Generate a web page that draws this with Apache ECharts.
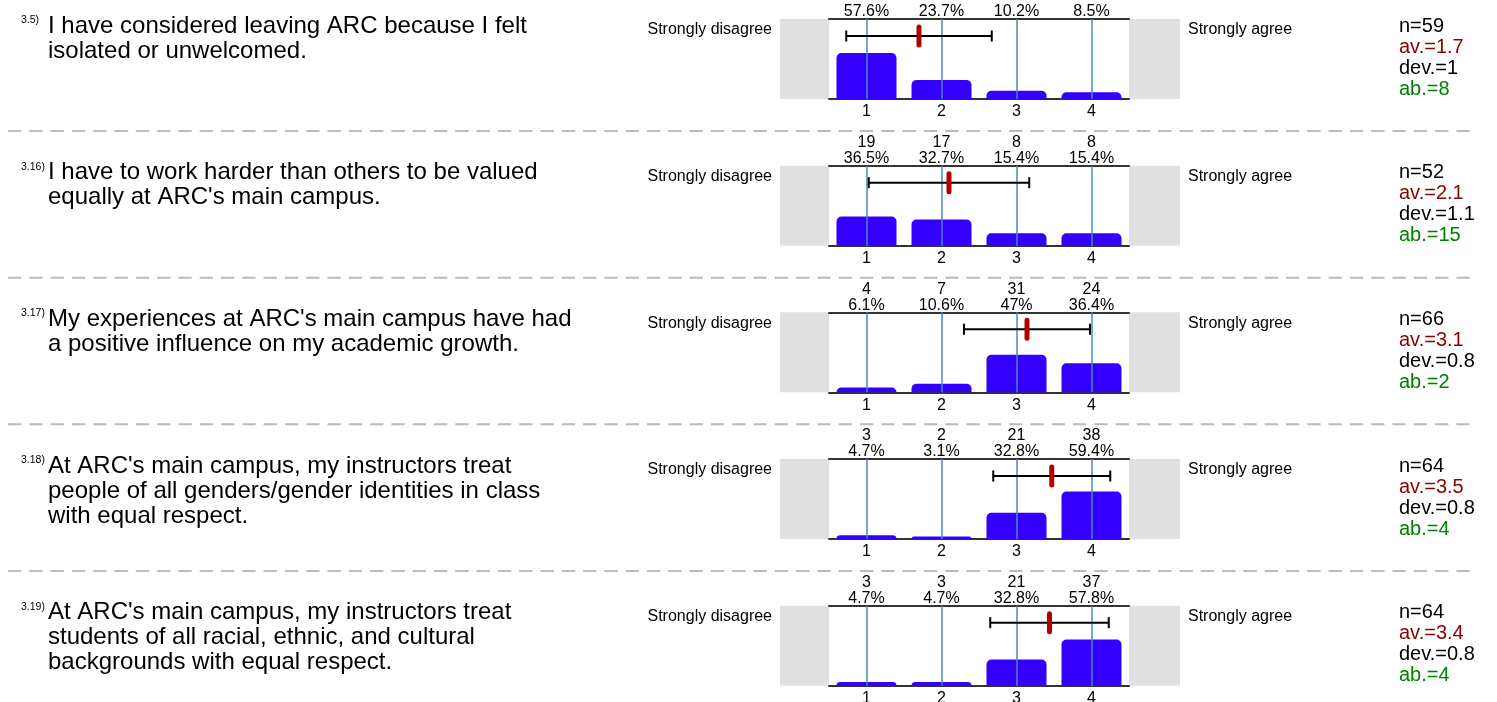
<!DOCTYPE html>
<html>
<head>
<meta charset="utf-8">
<script src="https://cdn.jsdelivr.net/npm/echarts@6/dist/echarts.min.js"></script>
<style>
html,body{margin:0;padding:0;background:#fff;}
#c{width:1497px;height:702px;}
</style>
</head>
<body>
<div id="c"></div>
<script>
// ---------- data ----------
const questionIds = ['3.5)', '3.16)', '3.17)', '3.18)', '3.19)'];
const questionLines = [
  ['I have considered leaving ARC because I felt', 'isolated or unwelcomed.'],
  ['I have to work harder than others to be valued', "equally at ARC's main campus."],
  ["My experiences at ARC's main campus have had", 'a positive influence on my academic growth.'],
  ["At ARC's main campus, my instructors treat", 'people of all genders/gender identities in class', 'with equal respect.'],
  ["At ARC's main campus, my instructors treat", 'students of all racial, ethnic, and cultural', 'backgrounds with equal respect.']
];
const categories = ['1', '2', '3', '4'];
const counts1 = [34, 14, 6, 5];
const counts2 = [19, 17, 8, 8];
const counts3 = [4, 7, 31, 24];
const counts4 = [3, 2, 21, 38];
const counts5 = [3, 3, 21, 37];
const pct1 = [57.6, 23.7, 10.2, 8.5];
const pct2 = [36.5, 32.7, 15.4, 15.4];
const pct3 = [6.1, 10.6, 47, 36.4];
const pct4 = [4.7, 3.1, 32.8, 59.4];
const pct5 = [4.7, 4.7, 32.8, 57.8];
const means = [1.70, 2.10, 3.14, 3.47, 3.44];
const devs = [0.97, 1.07, 0.84, 0.78, 0.79];
const statN = ['n=59', 'n=52', 'n=66', 'n=64', 'n=64'];
const statAv = ['av.=1.7', 'av.=2.1', 'av.=3.1', 'av.=3.5', 'av.=3.4'];
const statDev = ['dev.=1', 'dev.=1.1', 'dev.=0.8', 'dev.=0.8', 'dev.=0.8'];
const statAb = ['ab.=8', 'ab.=15', 'ab.=2', 'ab.=4', 'ab.=4'];
const leftPole = 'Strongly disagree';
const rightPole = 'Strongly agree';

const countsAll = [counts1, counts2, counts3, counts4, counts5];
const pctAll = [pct1, pct2, pct3, pct4, pct5];

// ---------- layout ----------
const FONT = '"Liberation Sans", Arial, Helvetica, sans-serif';
const TOP0 = 19, STEP = 146.667, PH = 80;
const GL = 829, GW = 300;

const grids = [], xAxes = [], yAxes = [], series = [], graphics = [];

for (let k = 0; k < 5; k++) {
  const T = TOP0 + k * STEP;
  grids.push({left: GL, top: T, width: GW, height: PH, containLabel: false, outerBoundsMode: 'none'});
  // bottom category axis
  xAxes.push({
    type: 'category', gridIndex: k, position: 'bottom', data: categories,
    axisLine: {onZero: false, lineStyle: {color: '#333', width: 2}},
    axisTick: {show: false},
    axisLabel: {fontSize: 16, color: '#000', margin: 5, fontFamily: FONT}
  });
  // top category axis with count / percent labels
  xAxes.push({
    type: 'category', gridIndex: k, position: 'top',
    data: categories.map((c, i) => countsAll[k][i] + '\n' + pctAll[k][i] + '%'),
    axisLine: {onZero: false, lineStyle: {color: '#333', width: 2}},
    axisTick: {show: false},
    axisLabel: {fontSize: 16, color: '#000', margin: -1, lineHeight: 16, fontFamily: FONT}
  });
  // hidden value axis for mean/dev
  xAxes.push({type: 'value', gridIndex: k, position: 'bottom', min: 0.5, max: 4.5, show: false});
  yAxes.push({type: 'value', gridIndex: k, min: 0, max: 100, show: false});

  series.push({
    type: 'bar', xAxisIndex: 3 * k, yAxisIndex: k,
    data: pctAll[k], barWidth: 60,
    itemStyle: {color: '#3300ff', borderRadius: [5, 5, 0, 0]},
    silent: true,
    markLine: {
      silent: true, symbol: ['none', 'none'], label: {show: false},
      lineStyle: {type: 'solid', color: '#4f86c6', width: 1.5},
      data: categories.map(c => ({xAxis: c}))
    }
  });
  series.push({
    type: 'custom', xAxisIndex: 3 * k + 2, yAxisIndex: k,
    data: [[means[k], devs[k]]],
    silent: true, z: 5,
    renderItem: function (params, api) {
      const m = api.value(0), d = api.value(1);
      const y = params.coordSys.y + 17;
      const xm = api.coord([m, 0])[0];
      const x1 = api.coord([m - d, 0])[0];
      const x2 = api.coord([m + d, 0])[0];
      const ls = {stroke: '#000', lineWidth: 2};
      return {
        type: 'group', children: [
          {type: 'line', shape: {x1: x1, y1: y, x2: x2, y2: y}, style: ls},
          {type: 'line', shape: {x1: x1, y1: y - 5.5, x2: x1, y2: y + 5.5}, style: ls},
          {type: 'line', shape: {x1: x2, y1: y - 5.5, x2: x2, y2: y + 5.5}, style: ls},
          {type: 'rect', shape: {x: xm - 2.5, y: y - 11.5, width: 5, height: 23, r: 2.5}, style: {fill: '#b00000'}}
        ]
      };
    }
  });

  // gray side boxes
  graphics.push({type: 'rect', shape: {x: 780, y: T, width: GL - 780, height: PH}, style: {fill: '#e0e0e0'}, silent: true});
  graphics.push({type: 'rect', shape: {x: GL + GW, y: T, width: 1180 - GL - GW, height: PH}, style: {fill: '#e0e0e0'}, silent: true});

  // pole labels
  graphics.push({type: 'text', silent: true, style: {text: leftPole, x: 772, y: T + 11, font: '16px ' + FONT, fill: '#000', align: 'right', verticalAlign: 'middle', textAlign: 'right', textVerticalAlign: 'middle'}});
  graphics.push({type: 'text', silent: true, style: {text: rightPole, x: 1188, y: T + 11, font: '16px ' + FONT, fill: '#000', align: 'left', verticalAlign: 'middle', textAlign: 'left', textVerticalAlign: 'middle'}});

  // stats
  const statTexts = [statN[k], statAv[k], statDev[k], statAb[k]];
  const statColors = ['#000', '#8b0000', '#000', '#008000'];
  statTexts.forEach((s, i) => {
    graphics.push({type: 'text', silent: true, style: {text: s, x: 1399, y: T + 7 + 21 * i, font: '20px ' + FONT, fill: statColors[i], align: 'left', verticalAlign: 'middle', textAlign: 'left', textVerticalAlign: 'middle'}});
  });

  // question id + text
  graphics.push({type: 'text', silent: true, style: {text: questionIds[k], x: 21, y: T + 1, font: '10.5px ' + FONT, fill: '#000', align: 'left', verticalAlign: 'middle', textAlign: 'left', textVerticalAlign: 'middle'}});
  questionLines[k].forEach((line, i) => {
    graphics.push({type: 'text', silent: true, style: {text: line, x: 48, y: T + 7 + 25 * i, font: '24px ' + FONT, fill: '#000', align: 'left', verticalAlign: 'middle', textAlign: 'left', textVerticalAlign: 'middle'}});
  });

  // dashed separator
  if (k < 4) {
    graphics.push({type: 'line', silent: true, shape: {x1: 8, y1: T + 112, x2: 1471, y2: T + 112}, style: {stroke: '#bbbbbb', lineWidth: 2, lineDash: [13.3, 8]}});
  }
}

const chart = echarts.init(document.getElementById('c'), null, {renderer: 'canvas'});
chart.setOption({
  animation: false,
  backgroundColor: '#fff',
  textStyle: {fontFamily: FONT},
  grid: grids, xAxis: xAxes, yAxis: yAxes, series: series,
  graphic: {elements: graphics}
});
</script>
</body>
</html>
